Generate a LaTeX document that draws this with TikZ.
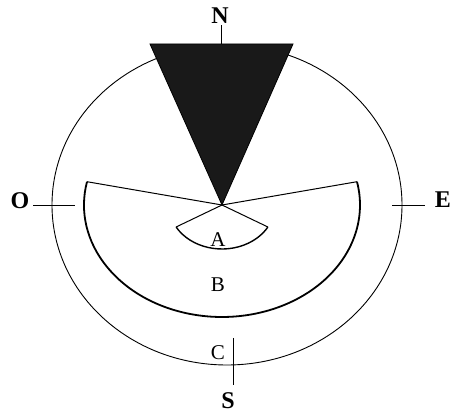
\documentclass[tikz,border=0pt]{standalone}
\usepackage{fontspec}
\setmainfont{Liberation Serif}
\usetikzlibrary{calc, positioning}

\tikzset{
    cardinal/.style={font=\fontsize{24}{26}\selectfont\bfseries, inner sep=0pt},
    zone/.style={font=\fontsize{21}{23}\selectfont, inner sep=0pt},
    tick/.style={black, line width=0.9pt},
}

\begin{document}
\begin{tikzpicture}[x=1pt, y=1pt]
    \useasboundingbox (0,0) rectangle (451,413);

    % 1. Vòng ngoài (elip) và tâm
    \coordinate (M) at (222,208);
    \draw[black, line width=0.9pt] (227,208) ellipse [x radius=175, y radius=160];

    % 2. Tam giác màu đen phía Bắc
    \coordinate (TL) at (150,369);
    \coordinate (TR) at (293,369);
    \coordinate (TN) at (221,369);
    \fill[black!90, draw=black, line width=0.8pt] (TL) -- (TR) -- (M) -- cycle;

    % 3. Vùng B (quạt lớn) và vùng A (quạt nhỏ)
    \coordinate (BL) at ($(M)+(168:138 and 112)$);
    \coordinate (BR) at ($(M)+(12:138 and 112)$);
    \draw[black, line width=1pt] (BL) -- (M) -- (BR);
    \draw[black, line width=1.8pt] (BL) arc[start angle=168, end angle=372, x radius=138, y radius=112];
    \coordinate (AL) at ($(M)+(210:53 and 44)$);
    \coordinate (AR) at ($(M)+(330:53 and 44)$);
    \draw[black, line width=1pt] (AL) -- (M) -- (AR);
    \draw[black, line width=1.4pt] (AL) arc[start angle=210, end angle=330, x radius=53, y radius=44];

    % 4. Các hướng N, O, E, S
    \node[cardinal, anchor=base] (lblN) at (220,389) {N};
    \coordinate (nN) at (221,388);
    \draw[tick] (TN) -- (nN);

    \node[cardinal, anchor=base] (lblO) at (20,204) {O};
    \coordinate (oA) at (33,208);
    \coordinate (oB) at (75,208);
    \draw[tick] (oA) -- (oB);

    \node[cardinal, anchor=base] (lblE) at (443,205) {E};
    \coordinate (eA) at (392,208);
    \coordinate (eB) at (425,208);
    \draw[tick] (eA) -- (eB);

    \node[cardinal, anchor=base] (lblS) at (228,4) {S};
    \coordinate (sA) at (233,75);
    \coordinate (sB) at (233,28);
    \draw[tick] (sA) -- (sB);

    % 5. Nhãn các vùng
    \node[zone, anchor=base] (lblA) at (218,166) {A};
    \node[zone, anchor=base] (lblB) at (218,121) {B};
    \node[zone, anchor=base] (lblC) at (218,53) {C};

\end{tikzpicture}
\end{document}
